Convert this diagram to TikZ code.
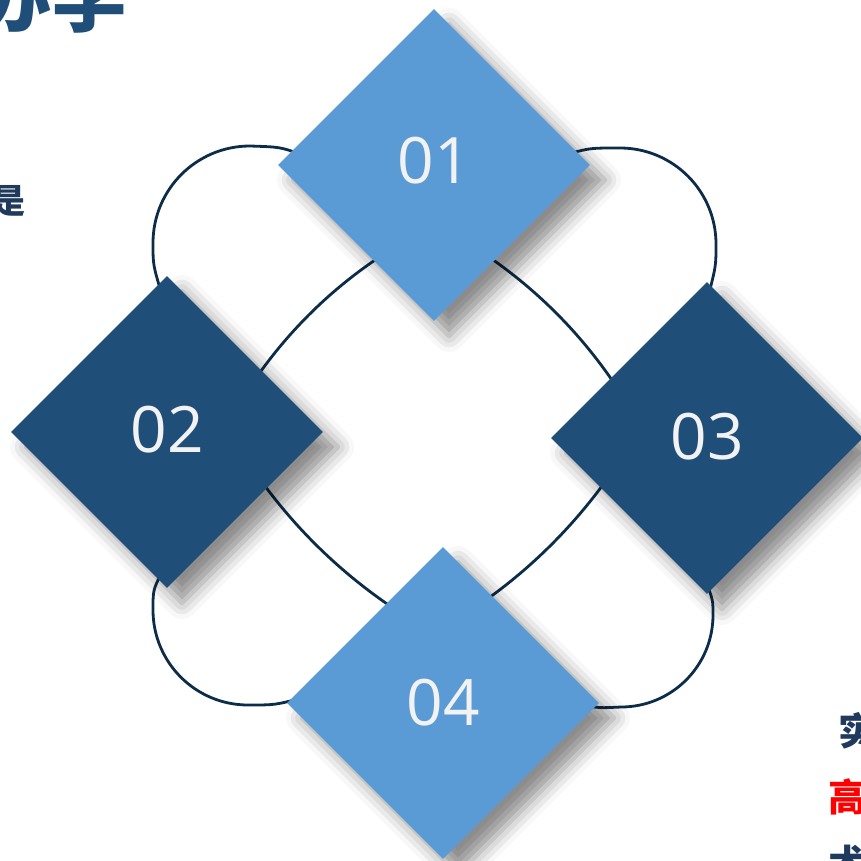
\documentclass[tikz,border=0pt]{standalone}
\usepackage{fontspec}
\setmainfont{Open Sans}
\newfontfamily\cjk{Noto Sans CJK SC}
\usetikzlibrary{shapes.geometric,shadows.blur}
\definecolor{lightblue}{HTML}{5B9BD5}
\definecolor{darkblue}{HTML}{1F4E79}
\definecolor{ringline}{HTML}{0D2C47}
\definecolor{navytext}{HTML}{1F3A5C}
\definecolor{titleblue}{HTML}{1F4E79}
\tikzset{
  dia/.style={shape=diamond, minimum width=312pt, minimum height=312pt, inner sep=0pt, draw=none,
    blur shadow={shadow xshift=15pt, shadow yshift=-15pt, shadow blur radius=16pt, shadow opacity=45}},
  num/.style={text=white!95!black, font=\fontsize{64}{64}\selectfont, inner sep=0pt},
  ring/.style={draw=ringline, line width=2.8pt},
  cjktext/.style={font=\cjk\bfseries, inner sep=0pt}
}
\begin{document}
\begin{tikzpicture}[x=1pt,y=-1pt]
\useasboundingbox (0,0) rectangle (861,861);
\clip (0,0) rectangle (861,861);
% anchor points of the connectors (hidden under the diamonds)
\coordinate (a12) at (381,256); \coordinate (b12) at (256,378);
\coordinate (a13) at (489,257); \coordinate (b13) at (614,383);
\coordinate (a24) at (262,482); \coordinate (b24) at (396,610);
\coordinate (a34) at (605,482); \coordinate (b34) at (486,600);
\coordinate (o1s) at (300,154); \coordinate (o1e) at (162,295);
\coordinate (o2s) at (568,154); \coordinate (o2e) at (708,297);
\coordinate (o3s) at (162,572); \coordinate (o3e) at (302,698);
\coordinate (o4s) at (706,582); \coordinate (o4e) at (588,706);
% inner connectors
\draw[ring] (a12) .. controls (331.6,288.8) and (290,329.4) .. (b12);
\draw[ring] (a13) .. controls (538.5,291.3) and (580.1,333.3) .. (b13);
\draw[ring] (a24) .. controls (299.1,532.6) and (343.7,575.2) .. (b24);
\draw[ring] (a34) .. controls (571.6,527.7) and (532,567.1) .. (b34);
% outer loops
\draw[ring] (o1s) .. controls (280,147) .. (250,146) arc[start angle=90, end angle=180, radius=97pt] .. controls (153,265) .. (o1e);
\draw[ring] (o2s) .. controls (590,148) .. (620,148) arc[start angle=90, end angle=0, radius=96pt] .. controls (716,266) .. (o2e);
\draw[ring] (o3s) .. controls (153,590) .. (153,610) arc[start angle=180, end angle=270, radius=95pt] .. controls (275,705) .. (o3e);
\draw[ring] (o4s) .. controls (713,600) .. (713,615) arc[start angle=0, end angle=-90, radius=92pt] .. controls (600,708) .. (o4e);
% diamonds
\node[dia, fill=lightblue] (d1) at (434,165) {};
\node[dia, fill=darkblue] (d2) at (167,432) {};
\node[dia, fill=darkblue] (d3) at (707,438) {};
\node[dia, fill=lightblue] (d4) at (443,703) {};
\node[num] (t1) at (434,161) {01};
\node[num] (t2) at (167,430) {02};
\node[num] (t3) at (707,437) {03};
\node[num] (t4) at (443,703) {04};
% partial texts
\node[cjktext, text=titleblue, font=\cjk\bfseries\fontsize{76}{76}\selectfont, anchor=base east] (title) at (128,27) {办学};
\node[cjktext, text=navytext, font=\cjk\bfseries\fontsize{34}{34}\selectfont] (s1) at (8,201) {是};
\node[cjktext, text=navytext, font=\cjk\bfseries\fontsize{38}{38}\selectfont] (s2) at (857,731) {实};
\node[cjktext, text=red, font=\cjk\bfseries\fontsize{38}{38}\selectfont] (s3) at (847,797) {高};
\node[cjktext, text=navytext, font=\cjk\bfseries\fontsize{38}{38}\selectfont] (s4) at (847,863) {术};
\end{tikzpicture}
\end{document}
